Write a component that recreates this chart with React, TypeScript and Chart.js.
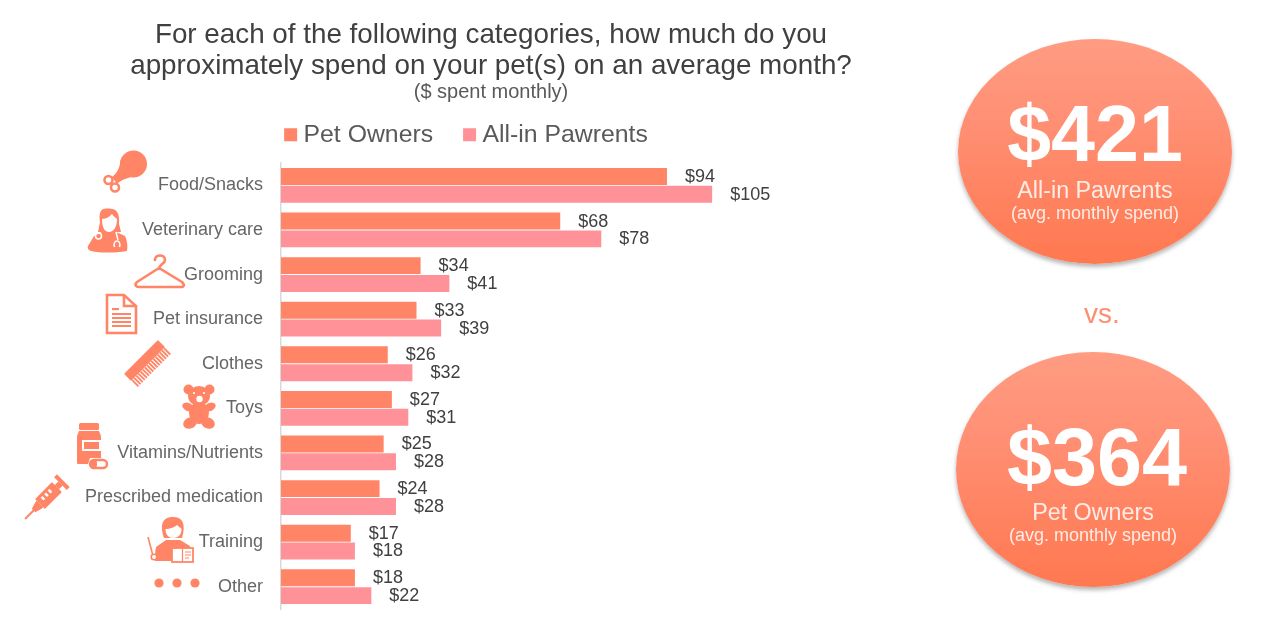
import React, { useEffect, useRef } from "react";
import { Chart, registerables } from "chart.js";

Chart.register(...registerables);

const categories = ["Food/Snacks", "Veterinary care", "Grooming", "Pet insurance", "Clothes", "Toys", "Vitamins/Nutrients", "Prescribed medication", "Training", "Other"];
const petOwners = [94, 68, 34, 33, 26, 27, 25, 24, 17, 18];
const allInPawrents = [105, 78, 41, 39, 32, 31, 28, 28, 18, 22];
const titleLines = ["For each of the following categories, how much do you", "approximately spend on your pet(s) on an average month?"];
const subtitleText = "($ spent monthly)";
const seriesNames = ["Pet Owners", "All-in Pawrents"];
const totals = [
  { value: "$421", label: "All-in Pawrents", note: "(avg. monthly spend)" },
  { value: "$364", label: "Pet Owners", note: "(avg. monthly spend)" },
];

const FONT = "'Liberation Sans', Arial, sans-serif";
const ICON = "#FF8566";
const BAR_A = "#FF8566";
const BAR_B = "#FF9298";

const labelsPlugin = {
  id: "valueLabels",
  beforeLayout(chart: any) {
    const lg = chart.legend;
    if (lg && !lg.__trimmed) {
      lg.__trimmed = true;
      const fit = lg.fit;
      lg.fit = function () {
        fit.call(this);
        this.height -= 10;
      };
    }
  },
  afterLayout(chart: any) {
    chart.boxes.forEach((b: any) => {
      if (b === chart.titleBlock || (b.options && b.options.text === subtitleText)) {
        b.left += 22;
        b.right += 22;
      }
    });
    if (chart.legend) chart.legend.top -= 16;
  },
  afterDatasetsDraw(chart: any) {
    const { ctx } = chart;
    ctx.save();
    ctx.font = `18px ${FONT}`;
    ctx.fillStyle = "#404040";
    ctx.textBaseline = "middle";
    ctx.textAlign = "left";
    chart.data.datasets.forEach((ds: any, i: number) => {
      chart.getDatasetMeta(i).data.forEach((bar: any, j: number) => {
        ctx.fillText(`$${ds.data[j]}`, bar.x + 18, bar.y + 0.5);
      });
    });
    ctx.restore();
  },
};

function Bubble({ left, top, w, h, t, yValue, yLabel, yNote, size, shift }: any) {
  const line = (y: number, fs: number, lh: number, extra: any, text: string) => (
    <div style={{ position: "absolute", left: 0, right: 0, top: y - lh / 2, fontSize: fs, lineHeight: `${lh}px`, ...extra }}>{text}</div>
  );
  return (
    <div
      style={{
        position: "absolute",
        left,
        top,
        width: w,
        height: h,
        borderRadius: "50%",
        background: "linear-gradient(180deg,#FF9C82 0%,#FF9075 35%,#FF7850 100%)",
        boxShadow: "0 3px 4px rgba(90,90,90,0.45)",
        color: "#fff",
        fontFamily: FONT,
        textAlign: "center",
      }}
    >
      {line(yValue, size, 92, { fontWeight: 700, transform: `translateX(${shift}px)` }, t.value)}
      {line(yLabel, 23.3, 28, { color: "#FFECE6" }, t.label)}
      {line(yNote, 18, 22, { color: "#FFECE6" }, t.note)}
    </div>
  );
}

function Icons() {
  return (
    <svg width={1264} height={625} style={{ position: "absolute", left: 0, top: 0, pointerEvents: "none" }}>
      {/* drumstick */}
      <g fill={ICON}>
        <circle cx={133.5} cy={164} r={13.5} />
        <path d="M120.5,160 C120,168 117,173 112,177 L117,184 C122,179 130,177 140,175 Z" />
      </g>
      <g fill="none" stroke={ICON} strokeWidth={2.6}>
        <circle cx={108.5} cy={180} r={4} />
        <circle cx={115} cy={187.5} r={4} />
      </g>
      {/* vet */}
      <g fill={ICON}>
        <path d="M100,222 C98,208 104,208.5 109,208.5 C116,208.5 120,212 119,224 L121,232 L98,232 Z" />
        <path d="M88,246 L94,236 L102,232 L116,232 L125,236 C127,240 128,246 127,251 C114,253 100,253 91,251 C88,250 87,248 88,246 Z" />
      </g>
      <path d="M102,219 C107,219 110,216 112,214 C114,217 116,218 117,219 C117,228 113,232 109,232 C105,232 102,228 102,219 Z" fill="#fff" />
      <g fill="none" stroke="#fff" strokeWidth={1.5}>
        <circle cx={98.5} cy={236} r={3} />
        <path d="M116,232 L118,240 M114.5,247 C112,239 122,239 119.5,247" />
      </g>
      {/* hanger */}
      <g fill="none" stroke={ICON} strokeWidth={2.6} strokeLinejoin="round" strokeLinecap="round">
        <path d="M155,260 C155,254 165,254 165,260 C165,264 159,264 159,269" />
        <path d="M159,268 L137,282 C134,285 136,287 139,287 L181,287 C184,287 185,285 182,282 Z" />
      </g>
      {/* document */}
      <g fill="none" stroke={ICON} strokeWidth={2.6}>
        <path d="M107,295 L124,295 L136,306 L136,333 L107,333 Z" />
        <path d="M124,295 L124,306 L136,306" />
      </g>
      <g fill={ICON}>
        <rect x={112} y={308} width={7} height={2.2} />
        <rect x={112} y={313} width={19} height={2} />
        <rect x={112} y={317} width={19} height={2} />
        <rect x={112} y={321} width={19} height={2} />
        <rect x={112} y={325} width={19} height={2} />
      </g>
      {/* comb */}
      <g transform="rotate(-45 148 364)" fill={ICON}>
        <rect x={124} y={354} width={48} height={10} rx={1} />
        {[0, 1, 2, 3, 4, 5, 6, 7, 8, 9, 10, 11, 12, 13, 14, 15].map((k) => (
          <rect key={k} x={124.5 + k * 3} y={364} width={1.9} height={9} />
        ))}
      </g>
      {/* teddy */}
      <g fill={ICON}>
        <circle cx={188.5} cy={389.5} r={5} />
        <circle cx={209.5} cy={389.5} r={5} />
        <ellipse cx={199} cy={396} rx={11} ry={10} />
        <ellipse cx={199} cy={413} rx={10} ry={11} />
        <ellipse cx={188} cy={407} rx={6} ry={4} transform="rotate(25 188 407)" />
        <ellipse cx={210} cy={407} rx={6} ry={4} transform="rotate(-25 210 407)" />
        <ellipse cx={190} cy={423} rx={7} ry={5.5} transform="rotate(-25 190 423)" />
        <ellipse cx={208} cy={423} rx={7} ry={5.5} transform="rotate(25 208 423)" />
      </g>
      <g fill="#fff">
        <circle cx={199.5} cy={399} r={3.2} />
        <circle cx={194} cy={393} r={1.1} />
        <circle cx={204} cy={393} r={1.1} />
      </g>
      {/* bottle + pill */}
      <g fill={ICON}>
        <rect x={79} y={423} width={20} height={7} rx={1.5} />
        <path d="M79,431 L99,431 L101,436 L101,458 L90,458 L88,464 L78,464 C77,464 77,463 77,462 L77,436 Z" />
      </g>
      <rect x={82} y={440} width={19} height={11} fill="#fff" />
      <rect x={84} y={442} width={15} height={7} fill={ICON} />
      <rect x={90} y={460} width={17} height={8} rx={4} fill="#fff" stroke={ICON} strokeWidth={2.4} />
      <rect x={90} y={460} width={7} height={8} rx={3} fill={ICON} />
      {/* syringe */}
      <g transform="rotate(-45 47 497)">
        <rect x={37} y={490} width={24} height={14} rx={1} fill={ICON} />
        <rect x={61} y={494} width={5} height={6} fill={ICON} />
        <rect x={66} y={488} width={4} height={18} fill={ICON} />
        <path d="M37,492 L28,494.5 L28,499.5 L37,502 Z" fill={ICON} />
        <rect x={16} y={496} width={13} height={2} fill={ICON} />
        <rect x={42} y={493} width={2.5} height={4} fill="#fff" />
        <rect x={47} y={493} width={2.5} height={4} fill="#fff" />
        <rect x={52} y={493} width={2.5} height={4} fill="#fff" />
      </g>
      {/* training */}
      <g fill={ICON}>
        <path d="M164,538 C159,524 163,517 173,517 C183,517 186,524 182,538 Z" />
        <path d="M156,547 L166,540 L180,540 L190,546 L190,549 L172,549 L172,561 L155,561 C155,556 155,551 156,547 Z" />
      </g>
      <path d="M165.5,529 C170,529 175,527 177,525 C179,527 181,528 181.5,529 C181.5,535 178,538 173,538 C169,538 165.5,535 165.5,529 Z" fill="#fff" />
      <rect x={172} y={548} width={21} height={14} fill="#fff" stroke={ICON} strokeWidth={1.8} />
      <path d="M182.5,548 L182.5,562 M185,552 L191,552 M185,555 L191,555 M185,558 L189,558" stroke={ICON} strokeWidth={1.2} fill="none" />
      <path d="M148,537 L153,556" stroke={ICON} strokeWidth={1.6} />
      <circle cx={154} cy={557} r={2.8} fill="#fff" stroke={ICON} strokeWidth={1.6} />
      {/* dots */}
      <g fill={ICON}>
        <circle cx={159} cy={583} r={4.6} />
        <circle cx={177} cy={583} r={4.6} />
        <circle cx={195} cy={583} r={4.6} />
      </g>
    </svg>
  );
}

export default function App() {
  const ref = useRef<HTMLCanvasElement>(null);
  useEffect(() => {
    const chart = new Chart(ref.current as HTMLCanvasElement, {
      type: "bar",
      data: {
        labels: categories,
        datasets: [
          { label: seriesNames[0], data: petOwners, backgroundColor: BAR_A, borderWidth: 0, categoryPercentage: 0.8, barPercentage: 0.95 },
          { label: seriesNames[1], data: allInPawrents, backgroundColor: BAR_B, borderWidth: 0, categoryPercentage: 0.8, barPercentage: 0.95 },
        ],
      },
      options: {
        indexAxis: "y",
        responsive: false,
        animation: false,
        layout: { padding: { top: 20, right: 0, bottom: 16, left: 0 } },
        plugins: {
          title: { display: true, text: titleLines, color: "#404040", font: { family: FONT, size: 27.8, weight: "normal", lineHeight: 1.12 }, padding: { top: 0, bottom: 0 } },
          subtitle: { display: true, text: subtitleText, color: "#595959", font: { family: FONT, size: 20, weight: "normal", lineHeight: 1 }, padding: { top: 0, bottom: 0 } },
          legend: {
            display: true,
            position: "top",
            labels: { font: { family: FONT, size: 24.8 }, color: "#595959", usePointStyle: true, pointStyle: "rect", boxWidth: 1, boxHeight: 13, padding: 36 },
          },
          tooltip: { enabled: false },
        },
        scales: {
          x: { display: false, min: 0, max: 160, grid: { display: false } },
          y: {
            grid: { display: false, drawTicks: false },
            border: { display: true, color: "#D9D9D9", width: 1.5 },
            ticks: { color: "#666666", font: { family: FONT, size: 18 }, padding: 18, autoSkip: false },
            afterFit(s: any) {
              s.width = 281;
              s.paddingTop = 0;
              s.paddingBottom = 0;
            },
          },
        },
      },
      plugins: [labelsPlugin],
    } as any);
    return () => chart.destroy();
  }, []);

  return (
    <div style={{ position: "absolute", left: 0, top: 0, width: 1264, height: 625, overflow: "hidden", background: "#fff" }}>
      <canvas ref={ref} width={938} height={625} style={{ display: "block", position: "absolute", left: 0, top: 0 }} />
      <Icons />
      <Bubble left={958} top={39} w={274} h={225} t={totals[0]} yValue={95} yLabel={151} yNote={174} size={79} shift={0} />
      <div style={{ position: "absolute", left: 1002, width: 200, top: 298, textAlign: "center", fontFamily: FONT, fontSize: 28, color: "#FF8D70" }}>vs.</div>
      <Bubble left={956} top={352} w={274} h={235} t={totals[1]} yValue={105} yLabel={160} yNote={183} size={81} shift={4} />
    </div>
  );
}
